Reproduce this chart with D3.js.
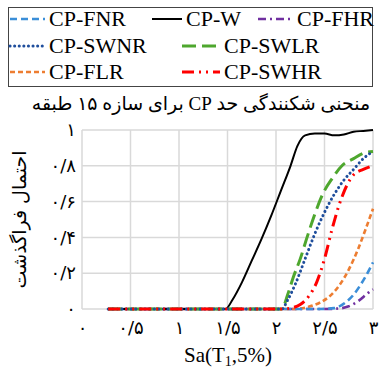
<!DOCTYPE html>
<html><head><meta charset="utf-8">
<script src="https://cdn.jsdelivr.net/npm/d3@7"></script>
<style>
html,body{margin:0;padding:0;background:#fff;}
svg{display:block;}
</style></head>
<body>
<svg id="chart" width="379" height="370"></svg>
<script>
// ---- data ----
const seriesNames = ["CP-FNR","CP-W","CP-FHR","CP-SWNR","CP-SWLR","CP-FLR","CP-SWHR"];
const xTickValues = [0,0.5,1,1.5,2,2.5,3];
const xTickLabels = ["۰","۰/۵","۱","۱/۵","۲","۲/۵","۳"];
const yTickValues = [0,0.2,0.4,0.6,0.8,1];
const yTickLabels = ["۰","۰/۲","۰/۴","۰/۶","۰/۸","۱"];
const titleText = "منحنی شکنندگی حد CP برای سازه ۱۵ طبقه";
const yTitleText = "احتمال فراگذشت";

const cpFNR  = [[0.27,0],[2.45,0],[2.6,0.005],[2.7,0.03],[2.8,0.08],[2.9,0.16],[3.0,0.26]];
const cpW    = [[0.27,0],[1.48,0],[1.55,0.05],[1.65,0.15],[1.75,0.27],[1.85,0.39],[1.95,0.52],[2.05,0.66],[2.15,0.80],[2.22,0.91],[2.3,0.97],[2.4,0.98],[2.5,0.98],[2.6,0.97],[2.7,0.975],[2.8,0.99],[2.9,0.995],[3.0,1.0]];
const cpFHR  = [[0.27,0],[2.5,0],[2.65,0.003],[2.75,0.015],[2.85,0.045],[2.95,0.09],[3.0,0.11]];
const cpSWNR = [[0.27,0],[2.06,0],[2.12,0.05],[2.2,0.14],[2.3,0.28],[2.4,0.42],[2.5,0.54],[2.6,0.64],[2.7,0.72],[2.8,0.78],[2.9,0.84],[3.0,0.88]];
const cpSWLR = [[0.27,0],[2.06,0],[2.12,0.08],[2.18,0.18],[2.25,0.28],[2.32,0.40],[2.4,0.53],[2.48,0.64],[2.58,0.73],[2.68,0.80],[2.8,0.84],[2.9,0.87],[3.0,0.88]];
const cpFLR  = [[0.27,0],[2.2,0],[2.35,0.015],[2.45,0.035],[2.55,0.07],[2.65,0.13],[2.75,0.22],[2.85,0.34],[2.92,0.44],[3.0,0.56]];
const cpSWHR = [[0.27,0],[2.06,0],[2.15,0.005],[2.25,0.025],[2.35,0.08],[2.42,0.15],[2.5,0.28],[2.58,0.45],[2.65,0.58],[2.73,0.69],[2.8,0.75],[2.9,0.78],[3.0,0.80]];

// ---- styles ----
const styles = {
  "CP-FNR":  {color:"#3b8ed8", dash:"7,4", cap:"butt", w:2.6},
  "CP-W":    {color:"#000000", dash:null, cap:"butt", w:2},
  "CP-FHR":  {color:"#7030a0", dash:"8,4,2,4", cap:"butt", w:2.6},
  "CP-SWNR": {color:"#1f4e9c", dash:"0.1,4.5", cap:"round", w:3},
  "CP-SWLR": {color:"#4ea72e", dash:"14,6", cap:"butt", w:3},
  "CP-FLR":  {color:"#ed7d31", dash:"5,3", cap:"butt", w:2.6},
  "CP-SWHR": {color:"#ff0000", dash:"12,5,2,5,2,5", cap:"butt", w:3}
};
const dataByName = {"CP-FNR":cpFNR,"CP-W":cpW,"CP-FHR":cpFHR,"CP-SWNR":cpSWNR,"CP-SWLR":cpSWLR,"CP-FLR":cpFLR,"CP-SWHR":cpSWHR};
const drawOrder = ["CP-FHR","CP-FLR","CP-FNR","CP-W","CP-SWLR","CP-SWNR","CP-SWHR"];

const svg = d3.select("#chart");
const m = {left:82, right:6, top:130, bottom:61};
const W = 379, H = 370;
const x = d3.scaleLinear().domain([0,3]).range([m.left, W-m.right]);
const y = d3.scaleLinear().domain([0,1]).range([H-m.bottom, m.top]);

// grid
const gridColor = "#d9d9d9";
svg.append("g").selectAll("line.v").data(xTickValues).join("line")
  .attr("x1",d=>x(d)).attr("x2",d=>x(d)).attr("y1",y(0)).attr("y2",y(1))
  .attr("stroke",gridColor).attr("stroke-width",1.5);
svg.append("g").selectAll("line.h").data(yTickValues).join("line")
  .attr("x1",x(0)).attr("x2",x(3)).attr("y1",d=>y(d)).attr("y2",d=>y(d))
  .attr("stroke",gridColor).attr("stroke-width",1.5);

// axes (labels only)
const xAxis = d3.axisBottom(x).tickValues(xTickValues).tickSize(0).tickPadding(12)
  .tickFormat((d,i)=>xTickLabels[i]);
const gx = svg.append("g").attr("transform",`translate(0,${y(0)})`).call(xAxis);
gx.select(".domain").remove();
gx.selectAll("text").attr("font-family","DejaVu Sans").attr("font-size",18).attr("fill","#000");

const yAxis = d3.axisLeft(y).tickValues(yTickValues).tickSize(0).tickPadding(6)
  .tickFormat((d,i)=>yTickLabels[i]);
const gy = svg.append("g").attr("transform",`translate(${x(0)},0)`).call(yAxis);
gy.select(".domain").remove();
gy.selectAll("text").attr("font-family","DejaVu Sans").attr("font-size",18).attr("fill","#000");

// lines
const line = d3.line().x(d=>x(d[0])).y(d=>y(d[1])).curve(d3.curveMonotoneX);
drawOrder.forEach(n=>{
  const s = styles[n];
  svg.append("path").datum(dataByName[n]).attr("d",line)
    .attr("fill","none").attr("stroke",s.color).attr("stroke-width",s.w)
    .attr("stroke-dasharray",s.dash).attr("stroke-linecap",s.cap);
});

// title
svg.append("text").attr("x",201).attr("y",110).attr("text-anchor","middle")
  .attr("direction","rtl").attr("font-family","Liberation Serif, DejaVu Sans")
  .attr("font-size",19).text(titleText);

// y title
svg.append("text").attr("transform",`translate(26,${(y(0)+y(1))/2}) rotate(-90)`)
  .attr("text-anchor","middle").attr("direction","rtl")
  .attr("font-family","DejaVu Sans").attr("font-size",19).text(yTitleText);

// x title
const xt = svg.append("text").attr("x",228).attr("y",362).attr("text-anchor","middle")
  .attr("font-family","Liberation Serif").attr("font-size",21);
xt.append("tspan").text("Sa(T");
xt.append("tspan").attr("font-size",14).attr("dy",4).text("1");
xt.append("tspan").attr("dy",-4).text(",5%)");

// legend
svg.append("rect").attr("x",8.5).attr("y",7.5).attr("width",364).attr("height",79)
  .attr("fill","#fff").attr("stroke","#444").attr("stroke-width",1);
const legendPos = [[10,19],[152,19],[258,19],[10,46],[182,46],[10,72],[182,72]];
const legendLineW = [35,30,35,35,38,35,38];
const lg = svg.append("g").selectAll("g").data(seriesNames).join("g")
  .attr("transform",(d,i)=>`translate(${legendPos[i][0]},${legendPos[i][1]})`);
lg.append("line").attr("x1",0).attr("x2",(d,i)=>legendLineW[i]).attr("y1",0).attr("y2",0)
  .attr("stroke",d=>styles[d].color).attr("stroke-width",d=>styles[d].w)
  .attr("stroke-dasharray",d=>styles[d].dash).attr("stroke-linecap",d=>styles[d].cap);
lg.append("text").attr("x",(d,i)=>legendLineW[i]+4).attr("y",7)
  .attr("font-family","Liberation Serif").attr("font-size",22).text(d=>d);
</script>
</body></html>
